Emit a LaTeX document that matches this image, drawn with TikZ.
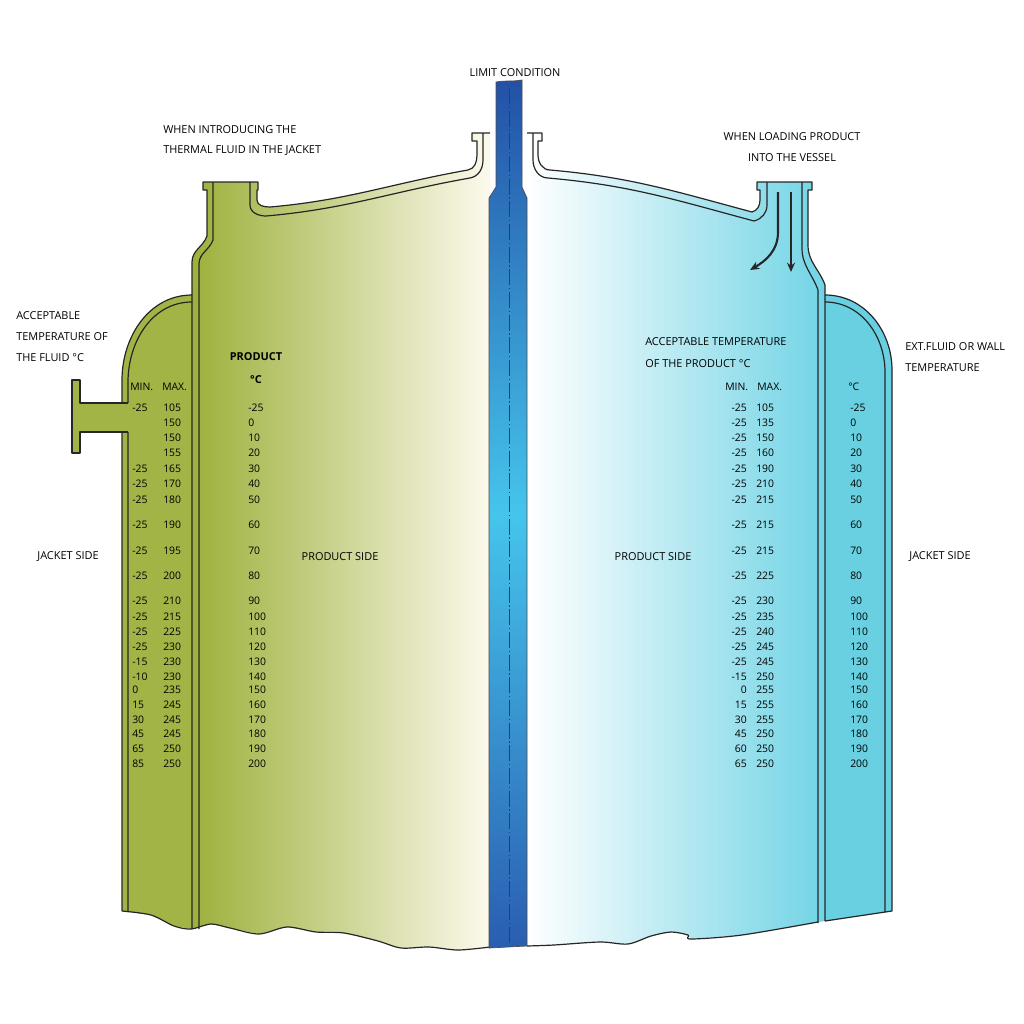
\documentclass[tikz,border=0pt]{standalone}
\usepackage{fontspec}
\setmainfont{Open Sans}
\usetikzlibrary{positioning, calc, arrows.meta}
\definecolor{olive}{HTML}{9DB03B}
\definecolor{olivejk}{HTML}{A2B446}
\definecolor{cream}{HTML}{FCF9EC}
\definecolor{aqua}{HTML}{72D4E5}
\definecolor{aquajk}{HTML}{68D0E0}
\definecolor{pipetop}{HTML}{2350A6}
\definecolor{pipemid}{HTML}{45C5EC}
\definecolor{pipebot}{HTML}{2A5DB0}
\tikzstyle{lbl} = [inner sep=0pt, font=\fontsize{8.2}{9}\selectfont]
\tikzstyle{num} = [inner sep=0pt, anchor=west, font=\fontsize{7.8}{9}\selectfont]
\tikzstyle{wall} = [draw=black!85, line width=0.9pt, line join=round]
\tikzstyle{flow} = [draw=black!85, line width=1.6pt, -{Stealth[length=7pt,width=6pt]}]

\begin{document}
\begin{tikzpicture}[x=0.75pt, y=-0.75pt]
    \useasboundingbox (0,0) rectangle (1024,1024);
    %%% Fills.
    \fill[olivejk] (122,911) -- (122,380) to[out=90,in=180] (192,295) -- (192,929)
      -- (174,926) -- (151,915) -- cycle;
    \fill[olivejk] (72,380) rectangle (80,453) (80,403) rectangle (122,432);
    \shade[left color=olive, right color=cream] (192,929) -- (192,262) to[out=90,in=-110] (207,236)
      -- (207,190) -- (203,190) -- (203,182) -- (258,182) -- (258,190) -- (257,190) -- (257,200)
      to[out=-90,in=180] (270,207) to[out=5,in=190] (468,170) to[out=10,in=-90] (477,155)
      -- (477,141) -- (472,141) -- (472,133) -- (490,133) -- (490,947)
      -- (458,950) -- (429,947) -- (401,948) -- (378,941) -- (344,933)
      -- (316,932) -- (287,927) -- (259,934) -- (230,928) -- (211,924) -- cycle;
    \shade[left color=white, right color=aqua] (527,946) -- (527,133) -- (542,133) -- (542,141) -- (538,141)
      -- (538,155) to[out=-90,in=180] (550,170) to[out=-5,in=165] (752,212) to[out=15,in=-90] (760,200)
      -- (760,190) -- (757,190) -- (757,182) -- (812,182) -- (812,190) -- (808,190) -- (808,245)
      to[out=-90,in=110] (825,285) -- (825,921) -- (742,935) -- (691,939) -- (688,935) -- (671,932)
      -- (651,936) -- (628,944) -- (600,942) -- (554,945) -- cycle;
    \fill[aquajk] (825,921) -- (825,295) to[out=0,in=90] (892,370) -- (892,911) -- cycle;
    %%% Walls.
    \draw[wall] (122,911) -- (122,432) (122,403) -- (122,380) to[out=90,in=180] (192,295);
    \draw[wall] (128,912) -- (128,432) (128,403) -- (128,382) to[out=90,in=180] (192,302);
    \draw[wall] (128,403) -- (80,403) -- (80,380) -- (72,380) -- (72,453) -- (80,453) -- (80,432) -- (128,432);
    \draw[wall] (192,929) -- (192,262) to[out=90,in=-110] (207,236) -- (207,190) -- (203,190)
      -- (203,182) -- (258,182) -- (258,190) -- (257,190) -- (257,200) to[out=-90,in=180] (270,207)
      to[out=5,in=190] (468,170) to[out=10,in=-90] (477,155) -- (477,141) -- (472,141) -- (472,133) -- (490,133);
    \draw[wall] (199,929) -- (199,264) to[out=90,in=-110] (213,240) -- (213,182);
    \draw[wall] (250,182) -- (250,205) to[out=-90,in=180] (266,216) to[out=5,in=190] (470,178)
      to[out=10,in=-90] (483,160) -- (483,133);
    \draw[wall] (527,133) -- (542,133) -- (542,141) -- (538,141) -- (538,155) to[out=-90,in=180] (550,170)
      to[out=-5,in=165] (752,212) to[out=15,in=-90] (760,200) -- (760,190) -- (757,190) -- (757,182)
      -- (812,182) -- (812,190) -- (808,190) -- (808,245) to[out=-90,in=110] (825,285) -- (825,921);
    \draw[wall] (533,133) -- (533,160) to[out=-90,in=180] (548,178) to[out=-5,in=165] (754,221)
      to[out=15,in=-90] (767,205) -- (767,182);
    \draw[wall] (802,182) -- (802,248) to[out=-90,in=110] (818,290) -- (818,923);
    \draw[wall] (825,295) to[out=0,in=90] (892,370) -- (892,911) -- (825,921);
    \draw[wall] (825,302) to[out=0,in=90] (885,372) -- (885,912);
    \draw[wall] plot[smooth] coordinates {(122,911) (151,915) (174,926) (191,929) (211,924) (230,928)
      (259,934) (287,927) (316,932) (344,933) (378,941) (401,948) (429,947) (458,950) (490,947)};
    \draw[wall] plot[smooth] coordinates {(527,946) (554,945) (600,942) (628,944) (651,936) (671,932)
      (688,935) (691,939) (742,935) (818,922)};
    %%% Pipe.
    \shade[top color=pipetop, bottom color=pipebot, middle color=pipemid, draw=black!70, line width=0.5pt]
      (496,82) to[out=10,in=190] (522,80) -- (522,187) -- (527,198) -- (527,946)
      -- (489,948) -- (489,198) -- (496,187) -- cycle;
    \draw[pipetop!80!black, line width=0.6pt, dash pattern=on 12pt off 2pt on 1pt off 2pt] (509,88) -- (509,945);
    %%% Flow arrows.
    \draw[flow] (791,192) -- (791,272);
    \draw[flow] (778,192) -- (778,232) to[out=-90,in=30] (750,270);
    %%% Labels.
    \node[lbl] (limit) at (515,73) {LIMIT CONDITION};
    \node[lbl, anchor=west] (intro1) at (163,130) {WHEN INTRODUCING THE};
    \node[lbl, anchor=west] (intro2) at (163,151) {THERMAL FLUID IN THE JACKET};
    \node[lbl] (load1) at (792,137) {WHEN LOADING PRODUCT};
    \node[lbl] (load2) at (792,158) {INTO THE VESSEL};
    \node[lbl, anchor=west] (acc1) at (16,316) {ACCEPTABLE};
    \node[lbl, anchor=west] (acc2) at (16,337) {TEMPERATURE OF};
    \node[lbl, anchor=west] (acc3) at (16,358) {THE FLUID °C};
    \node[lbl, font=\fontsize{8.2}{9}\selectfont\bfseries] (prod1) at (256,357) {PRODUCT};
    \node[lbl, font=\fontsize{8.2}{9}\selectfont\bfseries] (prod2) at (256,380) {°C};
    \node[num] (minl) at (130,387) {MIN.};
    \node[num] (maxl) at (162,387) {MAX.};
    \node[lbl, anchor=west] (accr1) at (645,342) {ACCEPTABLE TEMPERATURE};
    \node[lbl, anchor=west] (accr2) at (645,364) {OF THE PRODUCT °C};
    \node[num] (minr) at (725,387) {MIN.};
    \node[num] (maxr) at (757,387) {MAX.};
    \node[num] (degr) at (848,387) {°C};
    \node[lbl, anchor=west] (ext1) at (905,347) {EXT.FLUID OR WALL};
    \node[lbl, anchor=west] (ext2) at (905,368) {TEMPERATURE};
    \node[lbl] (jsl) at (68,557) {JACKET SIDE};
    \node[lbl] (psl) at (340,557) {PRODUCT SIDE};
    \node[lbl] (psr) at (653,557) {PRODUCT SIDE};
    \node[lbl] (jsr) at (940,557) {JACKET SIDE};
    %%% Tables.
    \foreach \i/\y/\t/\a/\b/\c/\d in {
      1/408/-25/-25/105/-25/105, 2/423/0//150/-25/135, 3/438/10//150/-25/150,
      4/453/20//155/-25/160, 5/469/30/-25/165/-25/190, 6/484/40/-25/170/-25/210,
      7/500/50/-25/180/-25/215, 8/525/60/-25/190/-25/215, 9/551/70/-25/195/-25/215,
      10/576/80/-25/200/-25/225, 11/601/90/-25/210/-25/230, 12/617/100/-25/215/-25/235,
      13/632/110/-25/225/-25/240, 14/647/120/-25/230/-25/245, 15/662/130/-15/230/-25/245,
      16/677/140/-10/230/-15/250, 17/690/150/0/235/0/255, 18/705/160/15/245/15/255,
      19/720/170/30/245/30/255, 20/734/180/45/245/45/250, 21/749/190/65/250/60/250,
      22/764/200/85/250/65/250} {
      \node[num] (lmin\i) at (132,\y) {\a};
      \node[num] (lmax\i) at (163,\y) {\b};
      \node[num] (lp\i) at (248,\y) {\t};
      \node[num, anchor=east] (rmin\i) at (747,\y) {\c};
      \node[num] (rmax\i) at (756,\y) {\d};
      \node[num] (rt\i) at (850,\y) {\t};
    }
\end{tikzpicture}
\end{document}
